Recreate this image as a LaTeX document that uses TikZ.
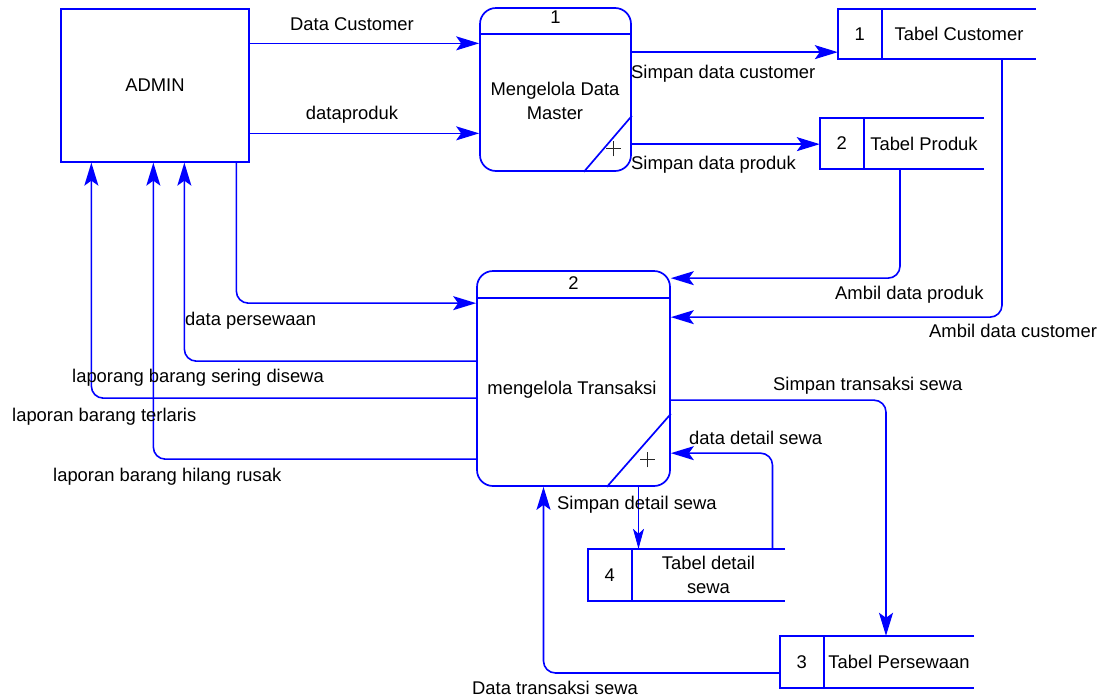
\documentclass[tikz,border=0pt]{standalone}
\usepackage{fontspec}
\setmainfont{Liberation Sans}
\usetikzlibrary{arrows.meta,positioning,calc}
\definecolor{dfdblue}{RGB}{0,0,255}
\tikzset{
  flow/.style={-{Stealth[length=23pt,width=14pt,inset=5pt]},line width=1.6pt,draw=dfdblue,rounded corners=12pt},
  thinflow/.style={flow,line width=0.8pt,-{Stealth[length=20pt,width=11pt,inset=5pt]}},
  entity/.style={draw=dfdblue,line width=1.3pt,minimum width=188pt,minimum height=153pt,inner sep=0pt},
  process/.style={draw=dfdblue,line width=1.7pt,rounded corners=16pt,inner sep=0pt},
  store/.style={inner sep=0pt},
  storeline/.style={draw=dfdblue,line width=1.7pt},
  plusmark/.style={line width=1pt,draw=black!85},
  lbl/.style={inner sep=0pt,text height=13pt,text depth=0pt},
  every node/.style={font=\fontsize{18.4}{23.5}\selectfont}
}

\begin{document}
\begin{tikzpicture}[x=1pt,y=-1pt]
  \useasboundingbox (0,0) rectangle (1109,697);
  % external entity
  \node[entity] (admin) at (155,85.5) {ADMIN};
  % processes
  \node[process,minimum width=151pt,minimum height=163pt] (p1) at (555.5,89.5) {};
  \draw[storeline] ([yshift=-27pt]p1.north west) -- ([yshift=-27pt]p1.north east);
  \draw[storeline] ([yshift=56pt]p1.south east) -- ([xshift=-48pt]p1.south east);
  \node (p1n) at ([yshift=-10pt]p1.north) {1};
  \node[align=center] (p1t) at (555,101) {Mengelola Data\\Master};
  \coordinate (p1p) at ([xshift=-18pt,yshift=23pt]p1.south east);
  \draw[plusmark] ([xshift=-7.5pt]p1p) -- ([xshift=7.5pt]p1p) ([yshift=-7.5pt]p1p) -- ([yshift=7.5pt]p1p);
  \node[process,minimum width=193pt,minimum height=215pt] (p2) at (573.5,378.5) {};
  \draw[storeline] ([yshift=-28pt]p2.north west) -- ([yshift=-28pt]p2.north east);
  \draw[storeline] ([yshift=73pt]p2.south east) -- ([xshift=-64pt]p2.south east);
  \node (p2n) at ([yshift=-13pt]p2.north) {2};
  \node (p2t) at (572,390) {mengelola Transaksi};
  \coordinate (p2p) at ([xshift=-23pt,yshift=27pt]p2.south east);
  \draw[plusmark] ([xshift=-7.5pt]p2p) -- ([xshift=7.5pt]p2p) ([yshift=-7.5pt]p2p) -- ([yshift=7.5pt]p2p);
  % data stores
  \foreach \s/\cx/\cy/\w/\h/\n/\t in {tc/937/34/198/50/1/{Tabel Customer},
      tp/902/143.5/164/51/2/{Tabel Produk},tps/877/662/194/52/3/{Tabel Persewaan},
      td/686.5/575/197/52/4/{Tabel detail\\sewa}}{
    \node[store,minimum width=\w pt,minimum height=\h pt] (\s) at (\cx,\cy) {};
    \draw[storeline] (\s.north east) -- (\s.north west) -- (\s.south west) -- (\s.south east);
    \draw[storeline] ([xshift=44pt]\s.north west) -- ([xshift=44pt]\s.south west);
    \node (\s-n) at ([xshift=22pt]\s.west) {\n};
    \node[align=center] (\s-t) at ($(\s.east)!0.5!([xshift=44pt]\s.west)$) {\t};
  }
  % ADMIN to process 1
  \coordinate (dcS) at ([yshift=-35pt]admin.north east);
  \draw[flow] (dcS) -- (dcS -| p1.west);
  \coordinate (dpS) at ([yshift=-125pt]admin.north east);
  \draw[flow] (dpS) -- (dpS -| p1.west);
  % process 1 to stores
  \coordinate (scS) at ([yshift=-45pt]p1.north east);
  \draw[flow] (scS) -- (scS -| tc.west);
  \coordinate (spS) at ([yshift=-137pt]p1.north east);
  \draw[flow] (spS) -- (spS -| tp.west);
  % stores to process 2
  \draw[flow] ([xshift=-2pt]tp.south) |- ([yshift=-8pt]p2.north east);
  \draw[flow] ([xshift=65pt]tc.south) |- ([yshift=-47pt]p2.north east);
  % process 2 and stores 3, 4
  \draw[flow] ([yshift=-130pt]p2.north east) -| ([xshift=9pt]tps.north);
  \draw[flow] ([xshift=86pt]td.north) |- ([yshift=-183pt]p2.north east);
  \coordinate (sdS) at ([xshift=65pt]p2.south);
  \draw[thinflow] (sdS) -- (sdS |- td.north);
  \draw[flow] ([yshift=-11pt]tps.west) -| ([xshift=-30pt]p2.south);
  % process 2 and ADMIN
  \draw[flow] ([xshift=176pt]admin.south west) |- ([yshift=-33pt]p2.north west);
  \draw[flow] ([yshift=-91pt]p2.north west) -| ([xshift=124pt]admin.south west);
  \draw[flow] ([yshift=-128pt]p2.north west) -| ([xshift=31pt]admin.south west);
  \draw[flow] ([yshift=-189pt]p2.north west) -| ([xshift=93pt]admin.south west);
  % labels
  \node[lbl] (l-dc) at (352,24) {Data Customer};
  \node[lbl] (l-dp) at (352,113) {dataproduk};
  \node[lbl,anchor=west] (l-sc) at (631,72) {Simpan data customer};
  \node[lbl,anchor=west] (l-sp) at (631,163) {Simpan data produk};
  \node[lbl,anchor=west] (l-ap) at (835,293) {Ambil data produk};
  \node[lbl,anchor=west] (l-ac) at (929,331) {Ambil data customer};
  \node[lbl,anchor=west] (l-ps) at (185,319) {data persewaan};
  \node[lbl,anchor=west] (l-ls) at (72,376) {laporang barang sering disewa};
  \node[lbl,anchor=west] (l-lt) at (12,415) {laporan barang terlaris};
  \node[lbl,anchor=west] (l-lh) at (53,475) {laporan barang hilang rusak};
  \node[lbl,anchor=west] (l-st) at (773,384) {Simpan transaksi sewa};
  \node[lbl,anchor=west] (l-dd) at (689,438) {data detail sewa};
  \node[lbl,anchor=west] (l-sd) at (557,503) {Simpan detail sewa};
  \node[lbl,anchor=west] (l-dt) at (472,688) {Data transaksi sewa};
\end{tikzpicture}
\end{document}
